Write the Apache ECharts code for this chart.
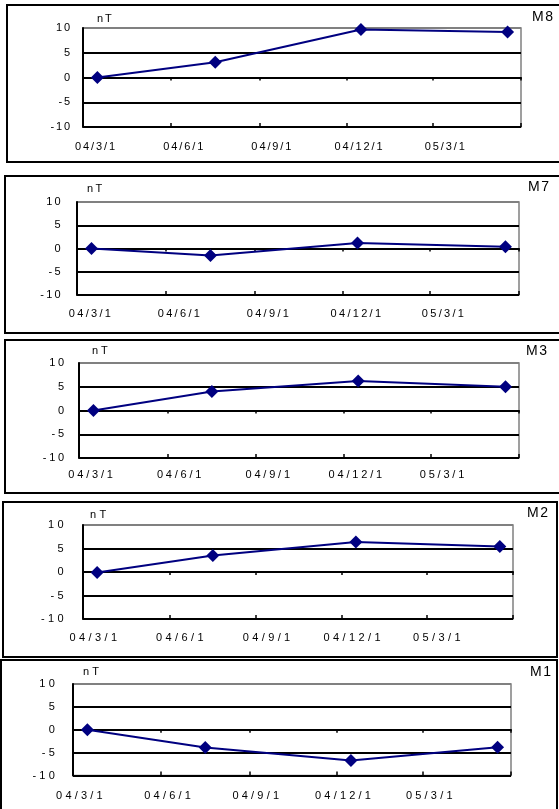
<!DOCTYPE html>
<html><head><meta charset="utf-8">
<script src="https://cdn.jsdelivr.net/npm/echarts@6/dist/echarts.min.js"></script>
<style>
html,body{margin:0;padding:0;background:#fff;}
.p{position:absolute;left:0;top:0;width:559px;height:809px;}
</style></head><body>
<div id="c0" class="p" data-ls="1.9"></div>
<div id="c1" class="p" data-ls="2.3"></div>
<div id="c2" class="p" data-ls="2.8"></div>
<div id="c3" class="p" data-ls="3.4"></div>
<div id="c4" class="p" data-ls="3.2"></div>
<script>
// ---- data ----
const pointDates = ['2004-03-16', '2004-07-17', '2004-12-16', '2005-05-18'];
const tickDates = ['2004-03-01', '2004-06-01', '2004-09-01', '2004-12-01', '2005-03-01', '2005-06-01'];
const labelDates = ['2004-03-01', '2004-06-01', '2004-09-01', '2004-12-01', '2005-03-01'];
const panelNames = ['M8', 'M7', 'M3', 'M2', 'M1'];
const m8 = [0, 3.1, 9.7, 9.2];
const m7 = [0, -1.5, 1.2, 0.4];
const m3 = [0, 4.0, 6.2, 5.0];
const m2 = [-0.1, 3.5, 6.4, 5.4];
const m1 = [0, -3.9, -6.7, -3.8];
const yMin = -10, yMax = 10, yStep = 5;
const yUnit = 'nT';

// ---- letter spacing of the text (Excel-like spaced glyphs) ----
const origFill = CanvasRenderingContext2D.prototype.fillText;
CanvasRenderingContext2D.prototype.fillText = function (t, x, y, mw) {
  const host = this.canvas && this.canvas.closest ? this.canvas.closest('[data-ls]') : null;
  if (host && 'letterSpacing' in this) {
    const big = /\b14px\b/.test(this.font);
    this.letterSpacing = (big ? 1.5 : parseFloat(host.dataset.ls)) + 'px';
  }
  const r = mw === undefined ? origFill.call(this, t, x, y) : origFill.call(this, t, x, y, mw);
  if (host && 'letterSpacing' in this) this.letterSpacing = '0px';
  return r;
};

// ---- layout (positions / styles only) ----
const FONT = 'Liberation Sans, Arial, sans-serif';
const layouts = [
  {box:[7,5,564,162],   grid:[83,28,521,127],   nameDx:14, nameGap:9,  title:[532,18],  fs:11, xMargin:14, xDx:13, yMargin:11},
  {box:[5,176,564,333], grid:[77,202,519,295],  nameDx:10, nameGap:13, title:[528,188], fs:11, xMargin:13, xDx:14, yMargin:14},
  {box:[5,340,564,493], grid:[79,363,519,458],  nameDx:13, nameGap:12, title:[526,352], fs:11, xMargin:11, xDx:13, yMargin:12},
  {box:[3,502,557,657], grid:[83,525,513,619],  nameDx:7,  nameGap:10, title:[527,514], fs:11, xMargin:13, xDx:12, yMargin:16},
  {box:[1,660,557,815], grid:[73,684,511,775.5],nameDx:10, nameGap:12, title:[530,673], fs:11, xMargin:15, xDx:8,  yMargin:15}
];

const seriesValues = [m8, m7, m3, m2, m1];
const DAY = 86400000;
const origin = Date.parse(tickDates[0]);
const dayOf = s => Math.round((Date.parse(s) - origin) / DAY);
const fmt = v => { const d = new Date(origin + v * DAY); return String(d.getUTCFullYear()).slice(2) + '/' + (d.getUTCMonth() + 1) + '/' + d.getUTCDate(); };
const tickDays = tickDates.map(dayOf);
const labelDays = labelDates.map(dayOf);
const xMin = tickDays[0], xMax = tickDays[tickDays.length - 1];

panelNames.forEach((name, i) => {
  const L = layouts[i];
  const g = L.grid, b = L.box;
  const chart = echarts.init(document.getElementById('c' + i), null, {renderer: 'canvas', width: 559, height: 809});
  const data = pointDates.map((d, k) => [dayOf(d), seriesValues[i][k]]);
  chart.setOption({
    animation: false,
    title: {text: name, left: L.title[0], top: L.title[1] - 8, padding: 0,
      textStyle: {fontSize: 14, fontWeight: 'normal', color: '#000', fontFamily: FONT}},
    grid: {left: g[0], top: g[1], width: g[2] - g[0], height: g[3] - g[1], show: true,
      borderColor: '#808080', borderWidth: 1.5, backgroundColor: 'transparent'},
    graphic: [{type: 'rect', silent: true, z: -10,
      shape: {x: b[0], y: b[1], width: b[2] - b[0], height: b[3] - b[1]},
      style: {fill: 'none', stroke: '#000', lineWidth: 2}}],
    xAxis: [{
      type: 'value', min: xMin, max: xMax,
      axisLine: {lineStyle: {color: '#000', width: 2}},
      axisTick: {customValues: tickDays, length: 3, lineStyle: {color: '#000', width: 1.5}},
      axisLabel: {customValues: labelDays, formatter: fmt, margin: L.xMargin, padding: [0, 0, 0, 2 * L.xDx],
        fontSize: L.fs, color: '#000', fontFamily: FONT, hideOverlap: false},
      splitLine: {show: false}
    }, {
      type: 'value', position: 'bottom', min: xMin, max: xMax,
      axisLine: {show: false},
      axisTick: {customValues: tickDays, inside: true, length: 4, lineStyle: {color: '#000', width: 1.5}},
      axisLabel: {show: false}, splitLine: {show: false}
    }],
    yAxis: {
      type: 'value', min: yMin, max: yMax, interval: yStep,
      name: yUnit, nameLocation: 'end', nameGap: L.nameGap,
      nameTextStyle: {align: 'left', verticalAlign: 'middle', padding: [0, 0, 0, L.nameDx], fontSize: 11, color: '#000', fontFamily: FONT},
      axisLine: {show: true, lineStyle: {color: '#000', width: 2}},
      axisTick: {show: false},
      axisLabel: {fontSize: 11, color: '#000', margin: L.yMargin, fontFamily: FONT},
      splitLine: {lineStyle: {color: ['#000', '#000', '#000', '#000', '#808080'], width: 2}}
    },
    series: [{
      type: 'line', xAxisIndex: 0, data: data,
      symbol: 'diamond', symbolSize: 13,
      lineStyle: {color: '#000080', width: 2},
      itemStyle: {color: '#000080'}, z: 5
    }]
  });
});
</script>
</body></html>
